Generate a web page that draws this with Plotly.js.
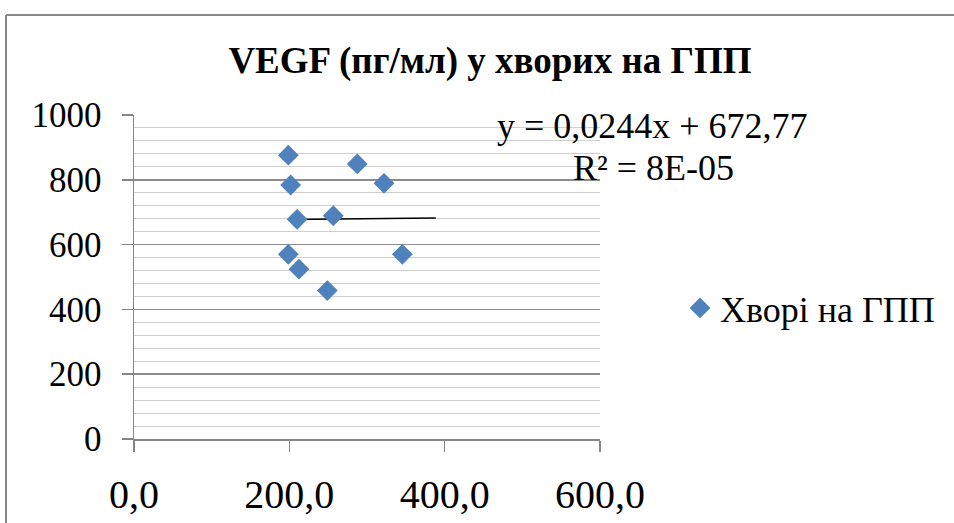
<!DOCTYPE html>
<html>
<head>
<meta charset="utf-8">
<script src="https://cdn.plot.ly/plotly-3.0.1.min.js"></script>
<style>
  html, body { margin: 0; padding: 0; background: #fff; }
  #chart { width: 954px; height: 523px; }
</style>
</head>
<body>
<div id="chart"></div>
<script>
// ---- data ----
const seriesName = 'Хворі на ГПП';
const xValues = [198.7, 201.7, 210.0, 256.6, 287.5, 321.9, 198.7, 212.4, 248.9, 345.5];
const yValues = [876, 784, 678, 689, 849, 789, 570, 524, 458, 570];

// linear trend (as printed on the chart)
const trendSlope = 0.0244;
const trendIntercept = 672.77;
const trendForward = 43;           // forecast forward beyond last x
const equationText = 'y = 0,0244x + 672,77';
const r2Text = 'R² = 8E-05';

const titleText = 'VEGF (пг/мл) у хворих на ГПП';

const xTickVals = [0, 200, 400, 600];
const xTickText = ['0,0', '200,0', '400,0', '600,0'];
const yTickVals = [0, 200, 400, 600, 800, 1000];
const yTickText = ['0', '200', '400', '600', '800', '1000'];

// ---- build traces ----
const tStart = Math.min(...xValues);
const tEnd = Math.max(...xValues) + trendForward;
const trendX = [tStart, tEnd];
const trendY = trendX.map(v => trendSlope * v + trendIntercept);

const serif = '"Liberation Serif", "Times New Roman", Times, serif';

const traces = [
  {
    x: trendX, y: trendY, type: 'scatter', mode: 'lines',
    line: { color: '#000000', width: 1.5 },
    showlegend: false, hoverinfo: 'skip'
  },
  {
    x: xValues, y: yValues, type: 'scatter', mode: 'markers',
    name: seriesName,
    marker: { symbol: 'diamond', size: 16, color: '#4F81BD', line: { width: 0 } }
  }
];

// plot area in px: left 134, right 600, top 115, bottom 439
const L = 134, R = 600, T = 115, B = 439;
const W = R - L, H = B - T;
const px2x = p => (p - L) / W;
const px2y = p => (B - p) / H;

const layout = {
  width: 954, height: 523,
  margin: { l: L, r: 954 - R, t: T, b: 523 - B, pad: 0 },
  paper_bgcolor: '#ffffff', plot_bgcolor: '#ffffff',
  font: { family: serif, color: '#000000' },
  title: {
    text: '<b>' + titleText + '</b>',
    font: { family: serif, size: 37, color: '#000000' },
    xref: 'container', x: 490 / 954, xanchor: 'center',
    yref: 'container', y: 1 - 60 / 523, yanchor: 'middle'
  },
  xaxis: {
    range: [0, 600],
    tickmode: 'array', tickvals: xTickVals, ticktext: xTickText,
    showgrid: false, zeroline: false,
    showline: true, linecolor: '#868686', linewidth: 1.5,
    ticks: 'outside', ticklen: 11, tickcolor: '#868686', tickwidth: 1.5,
    ticklabelstandoff: 8,
    tickfont: { family: serif, size: 40, color: '#000000' },
    fixedrange: true
  },
  yaxis: {
    range: [0, 1000],
    tickmode: 'array', tickvals: yTickVals, ticktext: yTickText,
    showgrid: true, gridcolor: '#8c8c8c', gridwidth: 1.5,
    zeroline: false,
    showline: true, linecolor: '#868686', linewidth: 1.5,
    ticks: 'outside', ticklen: 11, tickcolor: '#868686', tickwidth: 1.5,
    ticklabelstandoff: 13,
    tickfont: { family: serif, size: 35, color: '#000000' },
    minor: { dtick: 40, tick0: 0, showgrid: true, gridcolor: '#cfcfcf', gridwidth: 1, ticks: '' },
    fixedrange: true
  },
  legend: {
    x: px2x(680), y: px2y(308), xanchor: 'left', yanchor: 'middle',
    xref: 'paper', yref: 'paper',
    font: { family: serif, size: 36, color: '#000000' },
    bgcolor: 'rgba(0,0,0,0)', borderwidth: 0
  },
  annotations: [
    {
      xref: 'paper', yref: 'paper', x: px2x(652), y: px2y(126),
      xanchor: 'center', yanchor: 'middle', showarrow: false,
      text: equationText, font: { family: serif, size: 36, color: '#000000' }
    },
    {
      xref: 'paper', yref: 'paper', x: px2x(653), y: px2y(168),
      xanchor: 'center', yanchor: 'middle', showarrow: false,
      text: r2Text, font: { family: serif, size: 36, color: '#000000' }
    }
  ],
  shapes: [
    { type: 'line', xref: 'paper', yref: 'paper',
      x0: px2x(6), x1: px2x(6), y0: px2y(15), y1: px2y(530),
      line: { color: '#878787', width: 2 } },
    { type: 'line', xref: 'paper', yref: 'paper',
      x0: px2x(6), x1: px2x(960), y0: px2y(15), y1: px2y(15),
      line: { color: '#878787', width: 2 } }
  ],
  showlegend: true
};

Plotly.newPlot('chart', traces, layout, { displayModeBar: false, staticPlot: true });
</script>
</body>
</html>
